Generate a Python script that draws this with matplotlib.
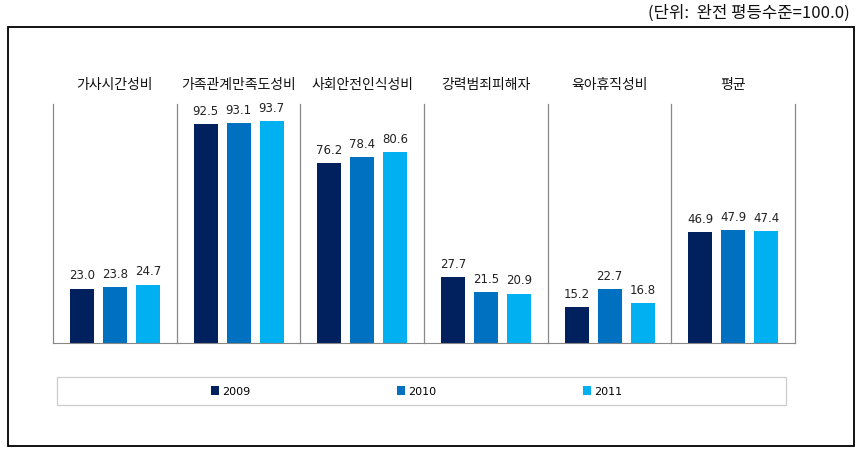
import numpy as np
import matplotlib.pyplot as plt
from matplotlib.patches import Rectangle

plt.rcParams['font.family'] = ['Noto Sans CJK KR', 'DejaVu Sans']

categories = ['가사시간성비', '가족관계만족도성비', '사회안전인식성비', '강력범죄피해자', '육아휴직성비', '평균']
years = ['2009', '2010', '2011']
v2009 = [23.0, 92.5, 76.2, 27.7, 15.2, 46.9]
v2010 = [23.8, 93.1, 78.4, 21.5, 22.7, 47.9]
v2011 = [24.7, 93.7, 80.6, 20.9, 16.8, 47.4]
colors = ['#00215E', '#0070C0', '#00B0F0']

W, H = 863, 452
fig = plt.figure(figsize=(W / 100, H / 100), dpi=100)

# plot area in pixels: x 53..795, y 105..344
x0, x1, ytop, ybot = 53, 795, 105, 344
ax = fig.add_axes([x0 / W, 1 - ybot / H, (x1 - x0) / W, (ybot - ytop) / H])

n = len(categories)
pw = (x1 - x0) / n
off = 33 / pw
bw = 24 / pw
x = np.arange(n) + 0.5
for k, (vals, c, lab) in enumerate(zip([v2009, v2010, v2011], colors, years)):
    xs = x + (k - 1) * off
    ax.bar(xs, vals, width=bw, color=c, label=lab)
    for xi, v in zip(xs, vals):
        ax.text(xi, v + 3, f'{v:.1f}', ha='center', va='bottom', fontsize=8.5,
                color='#222222', family='DejaVu Sans')

ax.set_xlim(0, n)
ax.set_ylim(0, 101)
for s in ['top', 'right', 'left']:
    ax.spines[s].set_visible(False)
ax.spines['bottom'].set_color('#888888')
for i in range(n + 1):
    ax.axvline(i, color='#888888', lw=0.9, clip_on=False)
ax.set_xticks([])
ax.set_yticks([])

for xi, cat in zip(x, categories):
    ax.text(xi, 109.5, cat, ha='center', va='center', fontsize=10, color='#111111',
            clip_on=False)

# outer frame
fig.patches.append(Rectangle((8 / W, 1 - 447 / H), (854 - 8) / W, (447 - 28) / H,
                             transform=fig.transFigure, fill=False, ec='black', lw=1.3))
# legend box
fig.patches.append(Rectangle((57 / W, 1 - 406 / H), (786 - 57) / W, (406 - 378) / H,
                             transform=fig.transFigure, fill=False, ec='#cccccc', lw=0.9))
handles, labels = ax.get_legend_handles_labels()
fig.legend(handles, labels, ncol=3, loc='center', bbox_to_anchor=(417 / W, 1 - 392 / H),
           frameon=False, handlelength=0.7, handleheight=0.9,
           handletextpad=0.3, columnspacing=13.2, prop={'family': 'DejaVu Sans', 'size': 8})

fig.text(850 / W, 1 - 13 / H, '(단위:  완전 평등수준=100.0)', ha='right', va='center',
         fontsize=12, color='#111111')

fig.savefig('out.png', dpi=100)
